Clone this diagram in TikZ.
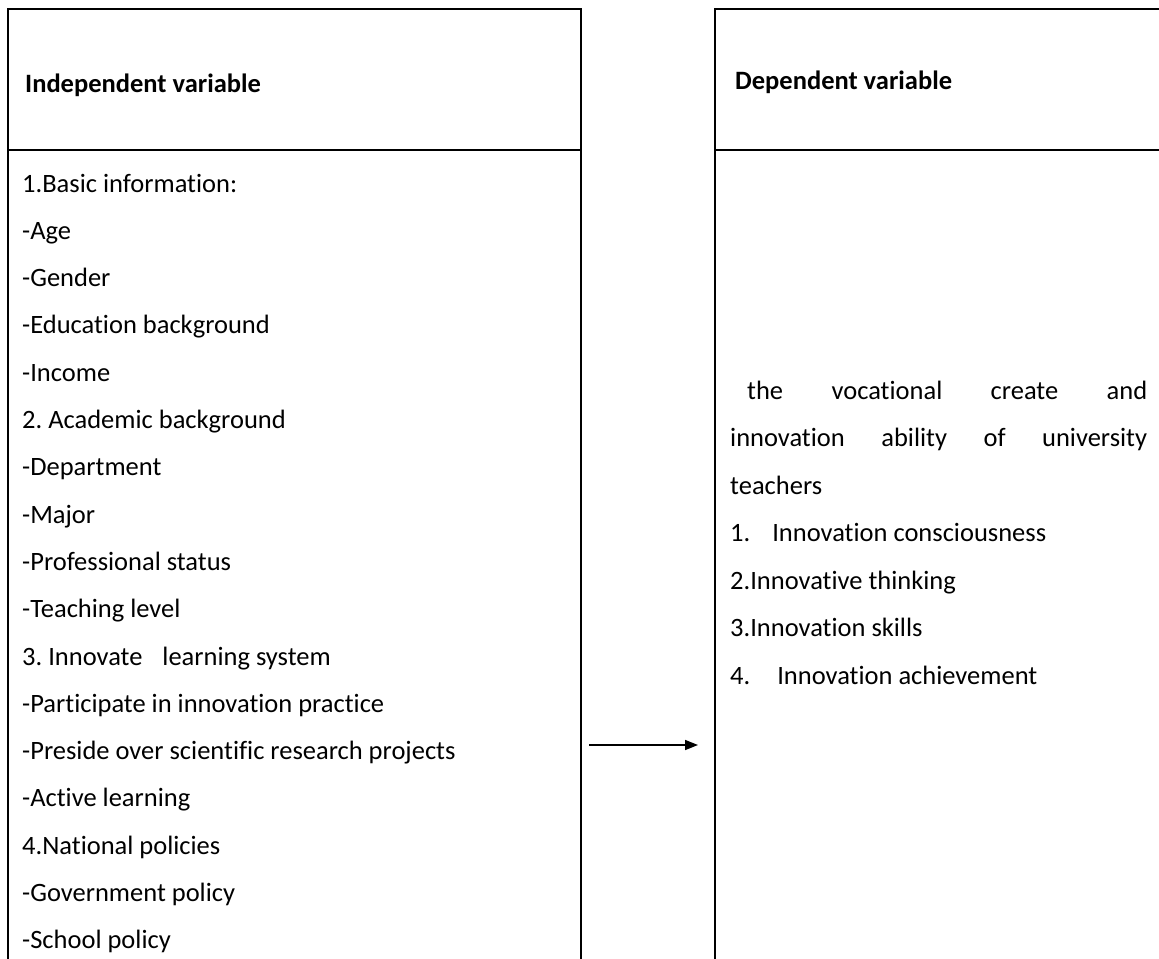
\documentclass[tikz,border=0pt]{standalone}
\usepackage{fontspec}
\setmainfont[Ligatures=NoCommon]{Carlito}
\usetikzlibrary{arrows.meta}
\frenchspacing
\begin{document}
\begin{tikzpicture}[x=1bp,y=-1bp,
  boxline/.style={line width=2.2bp},
  txt/.style={anchor=base west,inner sep=0pt,font=\fontsize{26.5bp}{32bp}\selectfont\frenchspacing},
  head/.style={txt,font=\fontsize{26.5bp}{32bp}\selectfont\bfseries},
  link/.style={line width=1.6bp,-{Triangle[length=13bp,width=10bp]}}]
\useasboundingbox (0,0) rectangle (1159,959);
\clip (0,0) rectangle (1159,959);
% boxes
\draw[boxline] (8,9) rectangle (581,1010);
\draw[boxline] (8,150) -- (581,150);
\draw[boxline] (715,9) rectangle (1180,1010);
\draw[boxline] (715,150) -- (1180,150);
% headers
\node[head] (hl) at (25,92) {Independent variable};
\node[head] (hr) at (735,89) {Dependent variable};
% left list
\foreach \t [count=\k from 0] in {
 1.Basic information:,
 -Age,
 -Gender,
 -Education background,
 -Income,
 2. Academic background,
 -Department,
 -Major,
 -Professional status,
 -Teaching level,
 {3. Innovate\hspace{14bp} learning system},
 -Participate in innovation practice,
 -Preside over scientific research projects,
 -Active learning,
 4.National policies,
 -Government policy,
 -School policy}
 \node[txt] (l\k) at (22,{192+47.3*\k}) {\t};
% right text
\node[txt] (r0) at (730,399) {\makebox[417bp][s]{\hspace{17bp}the vocational create and}};
\node[txt] (r1) at (730,446) {\makebox[417bp][s]{innovation ability of university}};
\node[txt] (r2) at (730,494) {teachers};
\node[txt] (r3) at (730,541) {1.\hspace{22bp}Innovation consciousness};
\node[txt] (r4) at (730,589) {2.Innovative thinking};
\node[txt] (r5) at (730,636) {3.Innovation skills};
\node[txt] (r6) at (730,684) {4.\hspace{27bp}Innovation achievement};
% arrow
\coordinate (a1) at (589,745);
\coordinate (a2) at (698,745);
\draw[link] (a1) -- (a2);
\end{tikzpicture}
\end{document}
